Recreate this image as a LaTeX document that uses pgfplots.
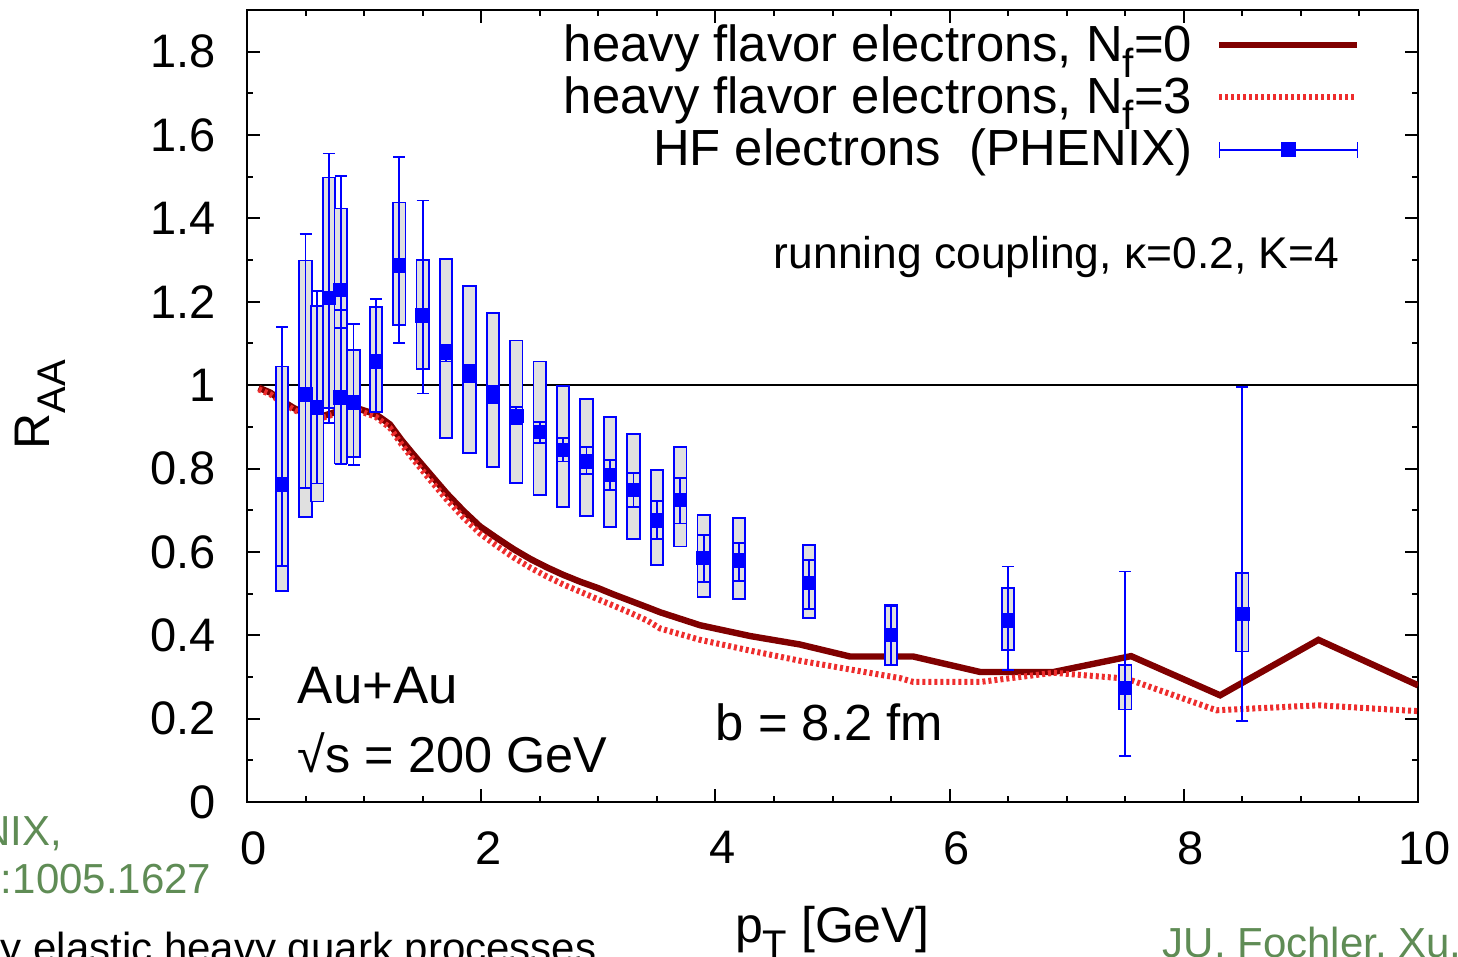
\documentclass[border=0pt]{standalone}
\usepackage{fontspec}
\setmainfont{Liberation Sans}
\usepackage{graphicx}
\usepackage{pgfplots}
\usepackage{pgfplotstable}
\pgfplotsset{compat=1.18}

\definecolor{nfzero}{RGB}{128,0,0}
\definecolor{nfthree}{RGB}{238,45,45}
\definecolor{hfblue}{RGB}{0,0,255}
\definecolor{boxgray}{RGB}{224,224,224}
\definecolor{refgreen}{RGB}{95,140,85}

\newcommand{\sub}[1]{\raisebox{-0.32em}{\scalebox{0.8}{#1}}}

% theory, N_f = 0
\pgfplotstableread{
pT    R
0.10  0.994
0.20  0.982
0.28  0.966
0.40  0.945
0.54  0.926
0.65  0.926
0.75  0.935
0.85  0.942
0.97  0.942
1.10  0.930
1.22  0.906
1.32  0.868
1.42  0.834
1.56  0.788
1.71  0.739
1.85  0.698
1.99  0.661
2.14  0.632
2.28  0.606
2.42  0.583
2.56  0.563
2.70  0.545
2.85  0.528
3.00  0.513
3.13  0.498
3.28  0.482
3.42  0.467
3.53  0.455
3.87  0.424
4.30  0.398
4.72  0.378
5.15  0.349
5.69  0.349
6.26  0.312
6.89  0.312
7.55  0.350
8.31  0.256
9.15  0.389
10.0  0.280
}\nfzerotab

% theory, N_f = 3
\pgfplotstableread{
pT    R
0.10  0.990
0.20  0.978
0.28  0.962
0.40  0.941
0.54  0.922
0.65  0.922
0.75  0.931
0.85  0.938
0.97  0.937
1.10  0.924
1.22  0.898
1.32  0.858
1.42  0.822
1.56  0.774
1.71  0.724
1.85  0.682
1.99  0.644
2.14  0.613
2.28  0.586
2.42  0.562
2.56  0.541
2.70  0.522
2.85  0.504
3.00  0.486
3.13  0.471
3.28  0.453
3.42  0.435
3.53  0.416
3.87  0.389
4.30  0.363
4.72  0.339
5.15  0.318
5.58  0.297
5.69  0.288
6.26  0.288
6.89  0.310
7.51  0.296
8.28  0.220
9.15  0.232
10.0  0.218
}\nfthreetab

% PHENIX heavy flavour electrons: value, systematic box, statistical bar
\pgfplotstableread{
pT    R      sysp   sysm   statp  statm
0.30  0.762  0.283  0.255  0.377  0.195
0.50  0.978  0.321  0.295  0.385  0.224
0.60  0.946  0.243  0.225  0.279  0.182
0.70  1.209  0.289  0.263  0.347  0.300
0.80  1.229  0.195  0.190  0.273  0.092
0.80  0.970  0.211  0.158  0.167  0.160
0.91  0.958  0.127  0.130  0.189  0.149
1.10  1.057  0.130  0.121  0.149  0.120
1.30  1.287  0.151  0.142  0.261  0.186
1.50  1.167  0.134  0.128  0.276  0.187
1.70  1.077  0.226  0.203  0.020  0.020
1.90  1.028  0.209  0.191  0.020  0.020
2.10  0.978  0.195  0.174  0.020  0.020
2.30  0.926  0.181  0.160  0.021  0.020
2.50  0.888  0.169  0.151  0.023  0.026
2.70  0.844  0.154  0.137  0.029  0.027
2.90  0.817  0.149  0.130  0.034  0.030
3.10  0.784  0.139  0.125  0.036  0.036
3.30  0.748  0.134  0.117  0.041  0.041
3.50  0.675  0.121  0.106  0.047  0.044
3.70  0.724  0.128  0.111  0.054  0.056
3.90  0.585  0.104  0.094  0.055  0.058
4.20  0.579  0.102  0.092  0.042  0.048
4.80  0.526  0.091  0.084  0.055  0.063
5.50  0.400  0.074  0.071  0.070  0.070
6.50  0.435  0.079  0.071  0.130  0.119
7.50  0.274  0.055  0.052  0.279  0.164
8.50  0.451  0.099  0.090  0.544  0.256
}\hfdata

% systematic boxes: each error bar is drawn as a filled rectangle
\pgfplotsset{
  sysbox/.style={
    draw=none, mark=none, forget plot,
    error bars/.cd, y dir=both, y explicit,
    draw error bar/.code 2 args={%
      \path ##1 coordinate (ebA) ##2 coordinate (ebB);%
      \path[draw=hfblue, fill=boxgray, line width=0.45pt]
        ([xshift=-1.55pt]ebA) rectangle ([xshift=1.55pt]ebB);%
    },
  },
}

\begin{document}
\begin{tikzpicture}
\clip (-61.75pt,-38.5pt) rectangle (302.75pt,200.5pt);
\begin{axis}[
  at={(0pt,0pt)}, anchor=south west,
  scale only axis, width=292.75pt, height=198pt,
  xmin=0, xmax=10, ymin=0, ymax=1.9,
  xtick={0,2,4,6,8,10},
  ytick={0,0.2,0.4,0.6,0.8,1,1.2,1.4,1.6,1.8},
  minor x tick num=3, minor y tick num=1,
  xtick pos=both, ytick pos=both,
  xticklabel pos=lower, yticklabel pos=left,
  tick align=inside,
  major tick length=3.25pt, minor tick length=1.6pt,
  every tick/.style={black, line width=0.5pt},
  axis line style={line width=0.6pt},
  /pgf/number format/assume math mode=true,
  tick label style={font=\fontsize{11.75}{14}\selectfont},
  xticklabel style={xshift=1.75pt, yshift=-3.85pt},
  yticklabel style={xshift=-4.3pt},
  legend style={draw=none, fill=none, inner sep=0pt, outer sep=0pt,
    at={(0.951,0.982)}, anchor=north east,
    font=\fontsize{12.7}{15}\selectfont, column sep=6pt, row sep=0pt,
    nodes={inner sep=0pt, text height=9.2pt, text depth=3.9pt}},
  legend cell align=right,
  legend plot pos=right,
]
\addplot[black, line width=0.5pt, forget plot] coordinates {(0,1) (10,1)};

\addplot[nfzero, line width=1.6pt,
  legend image code/.code={\draw[nfzero, line width=1.6pt] (0pt,1.35pt) -- (34.5pt,1.35pt);}]
  table[x=pT, y=R] {\nfzerotab};
\addlegendentry{heavy flavor electrons, N\sub{f}=0}

\addplot[nfthree, line width=1.5pt, dash pattern=on 0.75pt off 0.75pt,
  legend image code/.code={\draw[nfthree, line width=1.5pt, dash pattern=on 0.75pt off 0.75pt] (0pt,1.35pt) -- (34.5pt,1.35pt);}]
  table[x=pT, y=R] {\nfthreetab};
\addlegendentry{heavy flavor electrons, N\sub{f}=3}

\addplot[sysbox] table[x=pT, y=R, y error plus=sysp, y error minus=sysm] {\hfdata};

\addplot[hfblue, only marks, mark=square*, mark size=1.6pt,
  legend image code/.code={
    \draw[hfblue, line width=0.45pt] (0pt,1.35pt) -- (34.5pt,1.35pt);
    \draw[hfblue, line width=0.45pt] (0pt,-0.65pt) -- (0pt,3.35pt) (34.5pt,-0.65pt) -- (34.5pt,3.35pt);
    \fill[hfblue] (15.55pt,-0.35pt) rectangle (18.95pt,3.05pt);},
  error bars/.cd, y dir=both, y explicit,
  error bar style={hfblue, line width=0.45pt},
  error mark options={rotate=90, hfblue, mark size=1.5pt, line width=0.45pt}]
  table[x=pT, y=R, y error plus=statp, y error minus=statm] {\hfdata};
\addlegendentry{HF electrons\ \ (PHENIX)}
\end{axis}

% annotations, placed in reference pixel coordinates (origin top left)
\begin{scope}[shift={(-61.75pt,200.5pt)}, x=0.25pt, y=-0.25pt]
  \node[anchor=base east, inner sep=0pt, font=\fontsize{11.1}{14}\selectfont]
    at (1340,268) {running coupling, κ=0.2, K=4};
  \node[anchor=base west, inner sep=0pt, font=\fontsize{13.2}{16}\selectfont]
    at (297,703) {Au+Au};
  \node[anchor=base west, inner sep=0pt, font=\fontsize{12.6}{16}\selectfont]
    at (297,772) {√s = 200 GeV};
  \node[anchor=base west, inner sep=0pt, font=\fontsize{12.7}{15}\selectfont]
    at (715,740) {b = 8.2 fm};
  \node[anchor=base, inner sep=0pt, font=\fontsize{12.5}{15}\selectfont]
    at (832,942) {p\sub{T} [GeV]};
  \node[anchor=base, rotate=90, inner sep=0pt, font=\fontsize{12.5}{15}\selectfont]
    at (50,405) {R\sub{AA}};
  \node[anchor=base east, inner sep=0pt, text=refgreen, font=\fontsize{10.5}{13}\selectfont]
    at (63,845) {PHENIX,};
  \node[anchor=base east, inner sep=0pt, text=refgreen, font=\fontsize{10.5}{13}\selectfont]
    at (212,893) {arXiv:1005.1627};
  \node[anchor=base west, inner sep=0pt, text=refgreen, font=\fontsize{10.5}{13}\selectfont]
    at (1162,957) {JU, Fochler, Xu,};
  \node[anchor=base east, inner sep=0pt, font=\fontsize{10.5}{13}\selectfont]
    at (597,962) {only elastic heavy quark processes};
\end{scope}
\end{tikzpicture}
\end{document}
